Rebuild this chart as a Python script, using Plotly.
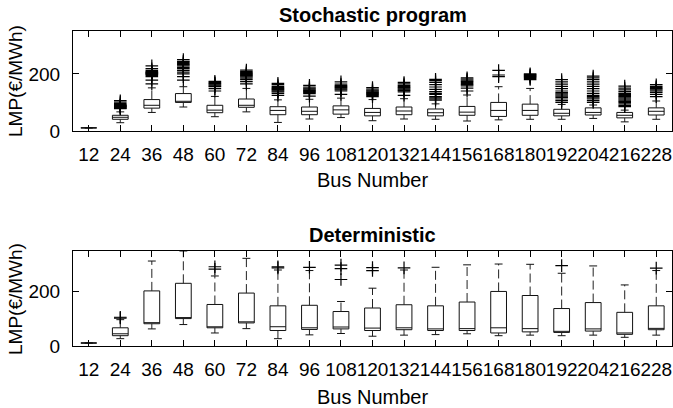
import plotly.graph_objects as go

buses = [12, 24, 36, 48, 60, 72, 84, 96, 108, 120, 132, 144, 156, 168, 180, 192, 204, 216, 228]
bus_labels = [str(b) for b in buses]

# Stochastic program box statistics
s_q1  = [11, 41, 80, 100, 64, 83, 57, 57, 59, 53, 57, 53, 55, 51, 55, 53, 56, 46, 56]
s_med = [11, 48, 90, 104, 73, 90, 72, 69, 74, 65, 70, 64, 66, 72, 72, 62, 65, 55, 69]
s_q3  = [11, 55, 110, 131, 90, 112, 85, 84, 88, 79, 84, 77, 86, 100, 94, 76, 81, 65, 81]
s_lo  = [11, 29, 65, 84, 50, 67, 30, 42, 47, 36, 42, 41, 35, 39, 41, 41, 44, 32, 41]
s_hi  = [11, 67, 151, 155, 121, 149, 109, 111, 115, 110, 113, 95, 126, 155, 149, 93, 91, 73, 105]
s_out = [
    [],
    [78, 80, 82, 84, 85, 87, 88, 90, 92, 96, 101, 106],
    [165, 178, 190, 195, 198, 200, 202, 204, 206, 208, 212, 218, 228],
    [178, 190, 200, 206, 212, 218, 223, 228, 232, 236, 240, 244, 250],
    [140, 148, 155, 158, 161, 164, 167, 170, 174],
    [165, 173, 180, 185, 189, 192, 195, 198, 201, 204, 208, 213],
    [125, 132, 137, 140, 143, 146, 149, 152, 156, 162, 167],
    [122, 131, 135, 138, 141, 144, 147, 150, 154, 160],
    [128, 140, 144, 147, 150, 153, 156, 159, 164, 172],
    [120, 125, 128, 131, 134, 137, 140, 143, 147, 152],
    [125, 137, 141, 144, 147, 150, 153, 156, 160, 165, 170],
    [108, 112, 116, 120, 128, 132, 138, 146, 154, 162, 170, 176, 181],
    [140, 150, 158, 162, 166, 170, 174, 178, 182, 186],
    [190, 196, 212],
    [180, 184, 188, 191, 194, 197, 200],
    [100, 106, 112, 118, 122, 126, 130, 134, 140, 148, 156, 164, 172, 180],
    [100, 106, 112, 116, 120, 125, 132, 140, 148, 156, 164, 172, 180, 186, 192],
    [85, 90, 95, 100, 104, 108, 112, 116, 120, 124, 128, 132, 138, 144, 150, 157],
    [120, 128, 135, 140, 144, 148, 152, 156, 162],
]

# Deterministic box statistics
d_q1  = [11, 38, 82, 101, 67, 85, 57, 61, 63, 57, 60, 57, 57, 48, 52, 50, 55, 43, 60]
d_med = [11, 45, 86, 103, 70, 89, 71, 67, 70, 66, 67, 63, 64, 67, 64, 54, 63, 48, 65]
d_q3  = [11, 67, 203, 231, 153, 195, 148, 150, 127, 140, 152, 148, 162, 201, 186, 138, 160, 124, 148]
d_lo  = [11, 27, 63, 79, 48, 64, 27, 41, 46, 36, 40, 42, 45, 38, 40, 38, 40, 32, 40]
d_hi  = [11, 97, 313, 350, 258, 323, 280, 278, 164, 213, 280, 290, 299, 302, 301, 268, 295, 225, 278]
d_out = [
    [], [103, 106], [], [], [283, 292], [], [288, 292], [290], [245, 285, 298],
    [278, 289], [288], [], [], [], [], [296], [], [], [287],
]

FONT = "Liberation Sans, Arial, sans-serif"
x_pos = list(range(1, len(buses) + 1))
BOX_W = 0.5
CAP_W = 0.25

fig = go.Figure()


def add_panel(q1, med, q3, lo, hi, outs, xa, ya):
    fig.add_trace(go.Box(
        x=x_pos, q1=q1, median=med, q3=q3, lowerfence=q1, upperfence=q3,
        width=BOX_W, whiskerwidth=0, fillcolor="rgba(0,0,0,0)",
        line=dict(color="#111111", width=1), boxpoints=False,
        xaxis=xa, yaxis=ya, showlegend=False, hoverinfo="skip",
    ))
    wx, wy, cx, cy = [], [], [], []
    for xi, a, b, l, h in zip(x_pos, q1, q3, lo, hi):
        wx += [xi, xi, None, xi, xi, None]
        wy += [b, h, None, a, l, None]
        cx += [xi - CAP_W / 2, xi + CAP_W / 2, None, xi - CAP_W / 2, xi + CAP_W / 2, None]
        cy += [h, h, None, l, l, None]
    fig.add_trace(go.Scatter(x=wx, y=wy, mode="lines", line=dict(color="#222222", width=1, dash="9px,4px"),
                             xaxis=xa, yaxis=ya, showlegend=False, hoverinfo="skip"))
    fig.add_trace(go.Scatter(x=cx, y=cy, mode="lines", line=dict(color="#111111", width=1),
                             xaxis=xa, yaxis=ya, showlegend=False, hoverinfo="skip"))
    ox, oy = [], []
    for xi, vals in zip(x_pos, outs):
        ox += [xi] * len(vals)
        oy += vals
    fig.add_trace(go.Scatter(x=ox, y=oy, mode="markers",
                             marker=dict(symbol="cross-thin", size=9, line=dict(color="#000000", width=1.2)),
                             xaxis=xa, yaxis=ya, showlegend=False, hoverinfo="skip", cliponaxis=True))


add_panel(s_q1, s_med, s_q3, s_lo, s_hi, s_out, "x", "y")
add_panel(d_q1, d_med, d_q3, d_lo, d_hi, d_out, "x2", "y2")

TOP_PX, BOT_PX = 31, 346
H = BOT_PX - TOP_PX


def py(ypx):
    return (BOT_PX - ypx) / H


xaxis_common = dict(
    range=[0.5, len(buses) + 0.5], tickmode="array", tickvals=x_pos, ticktext=bus_labels,
    tickangle=0, ticks="inside", ticklen=6, tickcolor="#000", showline=True, linecolor="#000",
    linewidth=1, mirror="ticks", showgrid=False, zeroline=False,
    tickfont=dict(family=FONT, size=19, color="#000"), ticklabelstandoff=6,
)
yaxis_common = dict(
    range=[0, 350], tickvals=[0, 200], ticks="inside", ticklen=6, tickcolor="#000",
    showline=True, linecolor="#000", linewidth=1, mirror="ticks", showgrid=False,
    zeroline=False, tickfont=dict(family=FONT, size=19, color="#000"), ticklabelstandoff=8,
)

fig.update_layout(
    width=673, height=408, margin=dict(l=73, r=1, t=TOP_PX, b=408 - BOT_PX),
    paper_bgcolor="white", plot_bgcolor="white",
    xaxis=dict(**xaxis_common, domain=[0, 1], anchor="y"),
    yaxis=dict(**yaxis_common, domain=[py(131), 1], anchor="x"),
    xaxis2=dict(**xaxis_common, domain=[0, 1], anchor="y2"),
    yaxis2=dict(**yaxis_common, domain=[0, py(251)], anchor="x2"),
    font=dict(family=FONT, color="#000"),
)

ann = []
for title, ty, xty, mid in [("Stochastic program", 15, 180, 81), ("Deterministic", 235, 397, 299)]:
    ann.append(dict(text="<b>%s</b>" % title, x=0.5, y=py(ty), xref="paper", yref="paper",
                    showarrow=False, font=dict(family=FONT, size=20, color="#000"), yanchor="middle"))
    ann.append(dict(text="Bus Number", x=0.5, y=py(xty), xref="paper", yref="paper",
                    showarrow=False, font=dict(family=FONT, size=20, color="#000"), yanchor="middle"))
    ann.append(dict(text="LMP(€/MWh)", x=(15 - 73) / 599, y=py(mid), xref="paper", yref="paper",
                    showarrow=False, textangle=-90, font=dict(family=FONT, size=19, color="#000"),
                    xanchor="center", yanchor="middle"))
fig.update_layout(annotations=ann)

fig.write_html("out.html")
